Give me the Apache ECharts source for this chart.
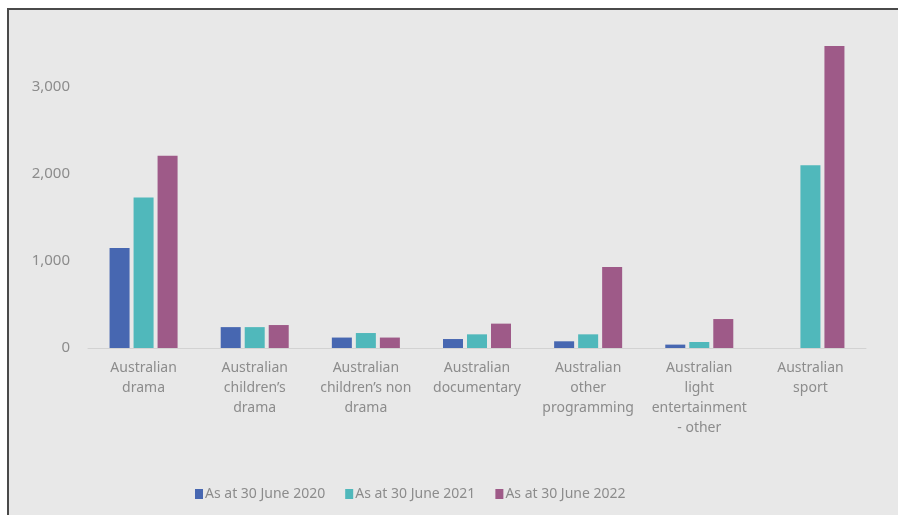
<!DOCTYPE html>
<html>
<head>
<meta charset="utf-8">
<script src="https://cdn.jsdelivr.net/npm/echarts@6/dist/echarts.min.js"></script>
<style>
    html, body { margin: 0; padding: 0; background: #fff; }
    #frame {
        position: absolute; left: 7px; top: 8px; right: 0; bottom: 0;
        background: #e8e8e8;
        border-left: 2px solid #4a4a4a;
        border-top: 2px solid #4a4a4a;
    }
    #chart { position: absolute; left: 0; top: 0; width: 898px; height: 515px; }
</style>
</head>
<body>
<div id="frame"></div>
<div id="chart"></div>
<script>
// 类目
const categories = [
    'Australian\ndrama',
    'Australian\nchildren’s\ndrama',
    'Australian\nchildren’s non\ndrama',
    'Australian\ndocumentary',
    'Australian\nother\nprogramming',
    'Australian\nlight\nentertainment\n- other',
    'Australian\nsport'
]
const seriesNames = ['As at 30 June 2020', 'As at 30 June 2021', 'As at 30 June 2022']
const data2020 = [1150, 240, 120, 103, 77, 39, 0]
const data2021 = [1730, 240, 172, 157, 157, 69, 2100]
const data2022 = [2210, 264, 120, 280, 930, 333, 3470]
const yTicks = [0, 1000, 2000, 3000]

const colors = ['#4767b1', '#50b8bb', '#9e5a88']
const textColor = '#8c8c8c'
const font = '"Noto Sans", "Open Sans", sans-serif'

const myChart = echarts.init(document.getElementById('chart'))

const option = {
    backgroundColor: 'transparent',
    animation: false,
    color: colors,
    textStyle: { fontFamily: font },
    grid: {
        left: 88, right: 32, top: 43.5, bottom: 167,
        containLabel: false
    },
    // 图例 底部
    legend: {
        bottom: 9,
        left: 190,
        itemWidth: 8,
        itemHeight: 10,
        itemGap: 20,
        icon: 'rect',
        textStyle: { color: textColor, fontSize: 14, padding: [0, 0, 0, -3] },
        data: seriesNames
    },
    xAxis: {
        type: 'category',
        data: categories,
        axisLine: { lineStyle: { color: '#d2d2d2', width: 1 } },
        axisTick: { show: false },
        axisLabel: {
            color: textColor,
            fontSize: 14,
            lineHeight: 20,
            margin: 10,
            interval: 0
        }
    },
    yAxis: {
        type: 'value',
        min: 0,
        max: 3500,
        interval: 1000,
        splitLine: { show: false },
        axisLine: { show: false },
        axisTick: { show: false },
        axisLabel: {
            color: textColor,
            fontSize: 15,
            margin: 18,
            showMaxLabel: false,
            formatter: function (v) {
                return yTicks.indexOf(v) >= 0 ? v.toLocaleString('en-US') : ''
            }
        }
    },
    series: [
        { name: seriesNames[0], type: 'bar', data: data2020, barWidth: '18%', barGap: '20%' },
        { name: seriesNames[1], type: 'bar', data: data2021, barWidth: '18%', barGap: '20%' },
        { name: seriesNames[2], type: 'bar', data: data2022, barWidth: '18%', barGap: '20%' }
    ]
}

myChart.setOption(option)
</script>
</body>
</html>
